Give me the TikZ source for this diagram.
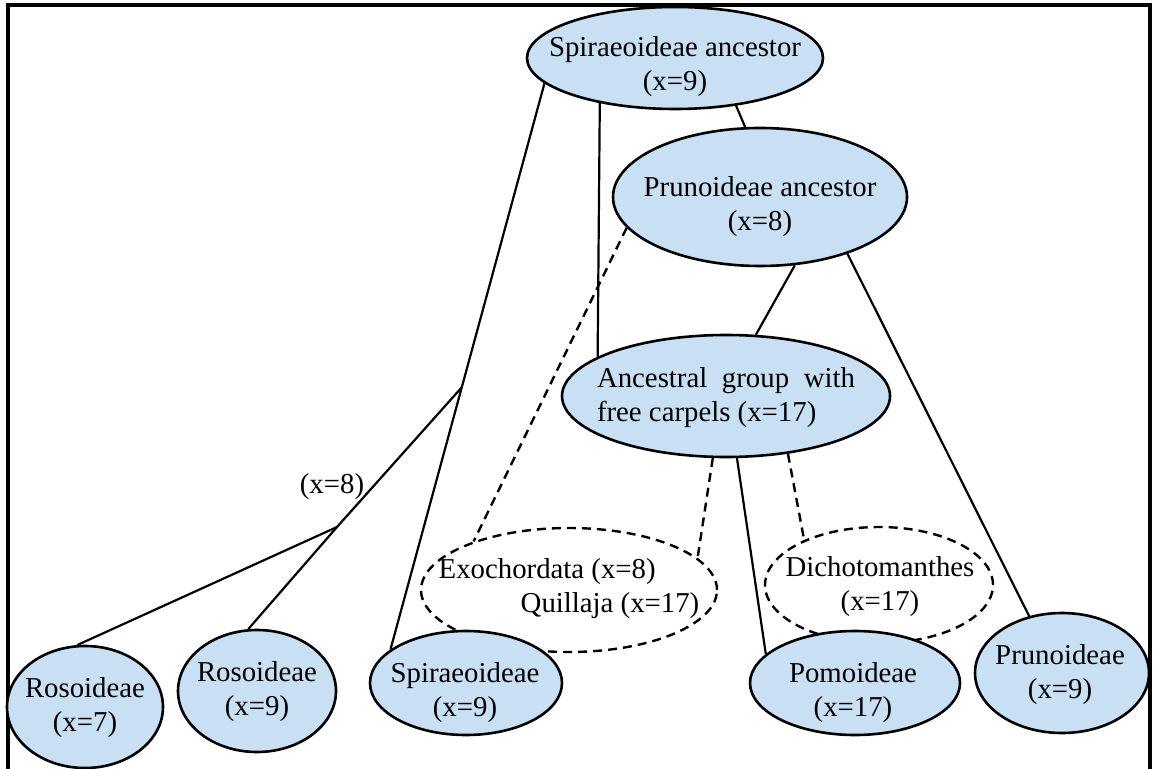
\documentclass[tikz,border=0pt]{standalone}
\usepackage{fontspec}
\setmainfont{Liberation Serif}
\usetikzlibrary{shapes.geometric,calc}
\definecolor{nodeblue}{RGB}{200,223,244}
\begin{document}
\begin{tikzpicture}[x=0.5pt,y=-0.5pt,
  font=\fontsize{14.4}{17}\selectfont,
  bluebox/.style={ellipse,draw=black,line width=1.3pt,fill=nodeblue,inner sep=0pt},
  dashbox/.style={ellipse,draw=black,line width=1.2pt,dash pattern=on 4.5pt off 3pt,fill=white,inner sep=0pt},
  txt/.style={align=center,inner sep=0pt},
  link/.style={line width=1.1pt},
  dlink/.style={line width=1.2pt,dash pattern=on 4.5pt off 3pt}]
\useasboundingbox (0,0) rectangle (1154,769);
% frame
\draw[line width=1.6pt] (8,769) -- (8,5) -- (1150,5) -- (1150,769);
% dashed ellipses (drawn first, behind the blue ones)
\node[dashbox,minimum width=148pt,minimum height=62pt] (ex) at (569,590) {};
\node[txt,align=left] (ex-t) at (569,589) {Exochordata (x=8)\\\hspace*{41pt}Quillaja (x=17)};
\node[dashbox,minimum width=114pt,minimum height=58pt] (di) at (879,585) {};
\node[txt] (di-t) at (880,587) {Dichotomanthes\\(x=17)};
% blue ellipses
\node[bluebox,minimum width=148pt,minimum height=51pt] (sa) at (675,58) {};
\node[txt] (sa-t) at (675,67) {Spiraeoideae ancestor\\(x=9)};
\node[bluebox,minimum width=147pt,minimum height=69pt] (pa) at (760,197) {};
\node[txt] (pa-t) at (760,207) {Prunoideae ancestor\\(x=8)};
\node[bluebox,minimum width=164pt,minimum height=61pt] (ag) at (726,396) {};
\node[txt,align=left] (ag-t) at (726,398) {\makebox[129pt][s]{Ancestral group with}\\free carpels (x=17)};
\node[bluebox,minimum width=78pt,minimum height=61pt] (r7) at (85,707) {};
\node[txt] (r7-t) at (85,708) {Rosoideae\\(x=7)};
\node[bluebox,minimum width=79pt,minimum height=61pt] (r9) at (257,691) {};
\node[txt] (r9-t) at (257,692) {Rosoideae\\(x=9)};
\node[bluebox,minimum width=96pt,minimum height=52pt] (sp) at (466,683) {};
\node[txt] (sp-t) at (465,693) {Spiraeoideae\\(x=9)};
\node[bluebox,minimum width=105pt,minimum height=52pt] (po) at (855,683) {};
\node[txt] (po-t) at (853,693) {Pomoideae\\(x=17)};
\node[bluebox,minimum width=87pt,minimum height=60pt] (pr) at (1062,673) {};
\node[txt] (pr-t) at (1060,675) {Prunoideae\\(x=9)};
% connectors
\draw[link] (sa.191) -- (sp.156);
\draw[link] (sa.211) -- (ag.163);
\draw[link] (sa.322) -- (pa.102);
\draw[link] (pa.297) -- (ag.64.6);
\draw[link] (pa.327) -- (pr.120.4);
\draw[link] (ag.280) -- (po.162.7);
\draw[dlink] (pa.193) -- (ex.153.7);
\draw[dlink] (ag.258) -- (ex.14);
\draw[dlink] (ag.317) -- (di.149.7);
% Rosoideae branch
\coordinate (rb) at ($(sa.191)!0.537!(sp.156)$);
\coordinate (rj) at (337,527);
\draw[link] (rb) -- (rj) -- (r7.97);
\draw[link] (rj) -- (r9.98);
\node[txt] (l8) at (332,487) {(x=8)};
\end{tikzpicture}
\end{document}
